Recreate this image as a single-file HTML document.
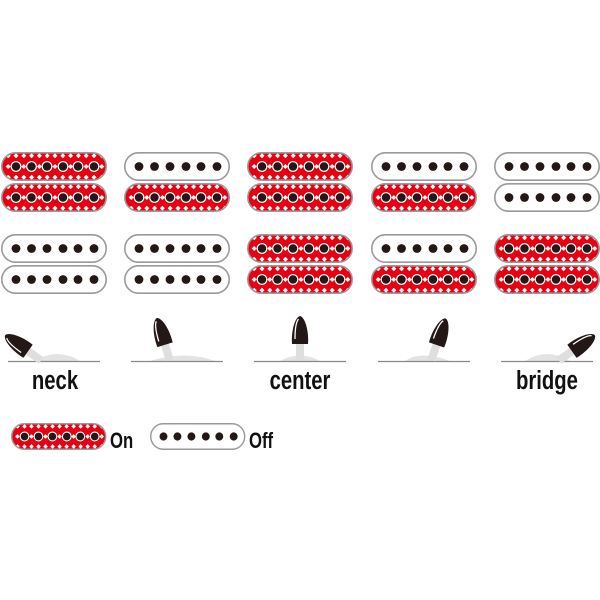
<!DOCTYPE html>
<html><head><meta charset="utf-8"><style>
html,body{margin:0;padding:0;background:#fff;width:600px;height:600px;overflow:hidden}
text{font-family:"Liberation Sans",sans-serif}
</style></head><body>
<svg width="600" height="600" viewBox="0 0 600 600" xmlns="http://www.w3.org/2000/svg">
<defs>
<pattern id="dia" x="0" y="0" width="15.6" height="21.5" patternUnits="userSpaceOnUse">
<rect width="15.6" height="21.5" fill="#e60012"/>
<g fill="#fff">
<path d="M7.2 1.2L9.7 3.7 7.2 6.2 4.7 3.7Z"/>
<path d="M15 1.2L17.5 3.7 15 6.2 12.5 3.7Z"/>
<path d="M-0.6 1.2L1.9 3.7 -0.6 6.2 -3.1 3.7Z"/>
<path d="M7.2 12L9.7 14.5 7.2 17 4.7 14.5Z"/>
</g>
</pattern>
<g id="on">
<rect x="0.8" y="0.8" width="104.4" height="27.4" rx="13.7" fill="url(#dia)" stroke="#9a9a9a" stroke-width="1.6"/>
<g fill="#231815" stroke="#fff" stroke-width="1.2">
<circle cx="15" cy="14.5" r="4.8"/><circle cx="30.5" cy="14.5" r="4.8"/><circle cx="46" cy="14.5" r="4.8"/><circle cx="62" cy="14.5" r="4.8"/><circle cx="77" cy="14.5" r="4.8"/><circle cx="93" cy="14.5" r="4.8"/>
</g>
</g>
<g id="off">
<rect x="0.8" y="0.8" width="104.4" height="27.4" rx="13.7" fill="#fff" stroke="#9a9a9a" stroke-width="1.6"/>
<g fill="#231815">
<circle cx="15" cy="14.5" r="4.4"/><circle cx="30.5" cy="14.5" r="4.4"/><circle cx="46" cy="14.5" r="4.4"/><circle cx="62" cy="14.5" r="4.4"/><circle cx="77" cy="14.5" r="4.4"/><circle cx="93" cy="14.5" r="4.4"/>
</g>
</g>
<g id="lever">
<path d="M-4 -1 L-4 -18 L4 -18 L4 -1Z" fill="#dedede"/>
<path d="M-8 -17 C-9 -30 -5 -44 0 -45 C5 -44 9 -30 8 -17 Z" fill="#231815"/>
<path d="M-5 -22 C-5 -32 -4 -39 -1.5 -42" stroke="#fff" stroke-width="1.3" fill="none"/>
</g>
</defs>

<use href="#on" x="1" y="152"/><use href="#on" x="1" y="183"/>
<use href="#off" x="1" y="234"/><use href="#off" x="1" y="265"/>
<use href="#off" x="124" y="152"/><use href="#on" x="124" y="183"/>
<use href="#off" x="124" y="234"/><use href="#off" x="124" y="265"/>
<use href="#on" x="247" y="152"/><use href="#on" x="247" y="183"/>
<use href="#on" x="247" y="234"/><use href="#on" x="247" y="265"/>
<use href="#off" x="371" y="152"/><use href="#on" x="371" y="183"/>
<use href="#off" x="371" y="234"/><use href="#on" x="371" y="265"/>
<use href="#off" x="494" y="152"/><use href="#off" x="494" y="183"/>
<use href="#on" x="494" y="234"/><use href="#on" x="494" y="265"/>

<g fill="#e3e3e3">
<path d="M35 361 Q57 347 80 361Z"/>
<path d="M150 361 Q185 350 215 361Z"/>
<path d="M280 361 Q300 350 320 361Z"/>
<path d="M405 361 Q420 350 450 361Z"/>
<path d="M525 361 Q547 347 570 361Z"/>
</g>
<g stroke="#888" stroke-width="1.2">
<line x1="8" y1="361.5" x2="100" y2="361.5"/>
<line x1="131" y1="361.5" x2="223" y2="361.5"/>
<line x1="254" y1="361.5" x2="346" y2="361.5"/>
<line x1="378" y1="361.5" x2="470" y2="361.5"/>
<line x1="501" y1="361.5" x2="593" y2="361.5"/>
</g>
<use href="#lever" transform="translate(42 361) rotate(-55)"/>
<use href="#lever" transform="translate(170 361) rotate(-17)"/>
<use href="#lever" transform="translate(300 361)"/>
<use href="#lever" transform="translate(431 361) rotate(19)"/>
<use href="#lever" transform="translate(558 361) rotate(55)"/>

<g font-size="26" fill="#111" font-weight="bold">
<text x="55" y="389" text-anchor="middle" transform="translate(55 0) scale(0.78 1) translate(-55 0)">neck</text>
<text x="300" y="389" text-anchor="middle" transform="translate(300 0) scale(0.78 1) translate(-300 0)">center</text>
<text x="547" y="389" text-anchor="middle" transform="translate(547 0) scale(0.78 1) translate(-547 0)">bridge</text>
</g>

<use href="#on" transform="translate(11 423) scale(0.9 0.93)"/>
<use href="#off" transform="translate(150 423) scale(0.9 0.93)"/>
<g font-size="22" fill="#111" font-weight="bold">
<text x="110" y="448" transform="translate(110 0) scale(0.76 1) translate(-110 0)">On</text>
<text x="249" y="448" transform="translate(249 0) scale(0.76 1) translate(-249 0)">Off</text>
</g>
</svg>
</body></html>
